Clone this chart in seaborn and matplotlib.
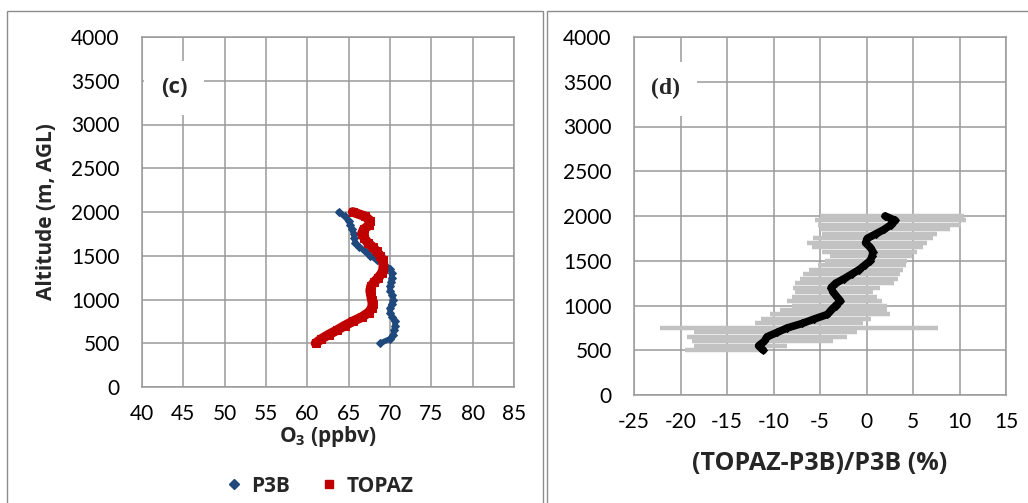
import numpy as np
import pandas as pd
import matplotlib
matplotlib.use("Agg")
import matplotlib.pyplot as plt
from matplotlib.patches import Rectangle
from matplotlib.lines import Line2D
import seaborn as sns

# ---------------- data ----------------
alt = [500, 550, 600, 650, 700, 750, 800, 850, 900, 950, 1000, 1050, 1100, 1150,
       1200, 1250, 1300, 1350, 1400, 1450, 1500, 1550, 1600, 1650, 1700, 1750,
       1800, 1850, 1900, 1950, 2000]

p3b = [68.8, 70.0, 70.4, 70.5, 70.6, 70.6, 70.3, 70.0, 70.0, 70.2, 70.4, 70.3,
       70.0, 70.0, 70.1, 70.2, 70.2, 70.0, 69.3, 68.4, 67.6, 67.0, 66.3, 65.8,
       65.7, 65.6, 65.4, 65.2, 65.0, 64.5, 63.8]

topaz = [61.0, 61.7, 62.6, 63.6, 64.5, 65.5, 66.6, 67.4, 67.8, 67.9, 67.8, 67.7,
         67.6, 67.7, 68.1, 68.6, 69.0, 69.2, 69.2, 69.1, 68.8, 68.4, 67.9, 67.3,
         66.9, 66.6, 66.8, 67.5, 67.6, 67.0, 65.5]

diff_mean = [-11.1, -11.6, -11.0, -10.7, -9.6, -8.5, -6.9, -5.6, -4.2, -3.8, -3.3,
             -2.8, -3.2, -3.6, -3.8, -3.3, -2.4, -1.6, -0.8, -0.2, 0.4, 0.6, 0.7,
             0.4, -0.1, 0.1, 1.0, 1.9, 2.6, 3.1, 2.0]

diff_lo = [-19.5, -18.5, -18.8, -19.3, -18.6, -22.2, -12.0, -11.3, -10.4, -9.3, -8.0,
           -8.5, -8.0, -7.7, -7.9, -7.7, -7.2, -6.8, -6.2, -5.2, -4.5, -3.9, -4.8,
           -5.9, -6.4, -5.7, -4.8, -5.0, -5.2, -5.5, -5.0]

diff_hi = [-11.0, -8.5, -3.6, -2.1, -1.0, 7.7, -0.4, 0.5, 2.5, 2.2, 2.2, 1.7, 1.1,
           0.7, 1.5, 3.0, 3.4, 3.6, 3.9, 4.2, 4.4, 4.9, 5.4, 6.1, 6.5, 7.2, 7.6,
           9.0, 10.2, 10.7, 10.5]

xticks_c = [40, 45, 50, 55, 60, 65, 70, 75, 80, 85]
xticks_d = [-25, -20, -15, -10, -5, 0, 5, 10, 15]
yticks = [0, 500, 1000, 1500, 2000, 2500, 3000, 3500, 4000]

# ---------------- style ----------------
sns.set_style("white")
plt.rcParams["font.family"] = ["Lato", "DejaVu Sans"]
plt.rcParams["mathtext.fontset"] = "custom"
plt.rcParams["mathtext.rm"] = "Open Sans:bold"
plt.rcParams["mathtext.it"] = "Open Sans:bold"
plt.rcParams["mathtext.bf"] = "Open Sans:bold"

BOLD = dict(family=["Open Sans", "DejaVu Sans"], weight="bold")

GRID = "#9a9a9a"
BLUE = "#1F497D"
RED = "#C00000"

fig = plt.figure(figsize=(10.28, 5.03), dpi=100)
W, H = 1028, 503

# panel frames
fig.patches.append(Rectangle((7 / W, -0.05), (543 - 7) / W, (503 - 11) / H + 0.05,
                             transform=fig.transFigure, fill=False,
                             edgecolor="#8c8c8c", lw=1.0))
fig.patches.append(Rectangle((547 / W, -0.05), 0.6, (503 - 11) / H + 0.05,
                             transform=fig.transFigure, fill=False,
                             edgecolor="#8c8c8c", lw=1.0))

ax1 = fig.add_axes([142 / W, 1 - 387 / H, (514 - 142) / W, (387 - 37) / H])
ax2 = fig.add_axes([634 / W, 1 - 395 / H, (1006 - 634) / W, (395 - 37) / H])


def style_axes(ax, xticks, xlim):
    ax.set_xlim(*xlim)
    ax.set_ylim(0, 4000)
    ax.set_xticks(xticks)
    ax.set_yticks(yticks)
    ax.set_xticklabels([str(t) for t in xticks])
    ax.grid(True, color=GRID, lw=1.1)
    ax.set_axisbelow(True)
    for s in ax.spines.values():
        s.set_color(GRID)
        s.set_linewidth(1.1)
    ax.tick_params(axis="both", direction="inout", length=8, width=1.1,
                   color=GRID, labelsize=15, labelcolor="black")
    ax.tick_params(axis="y", pad=12)
    ax.tick_params(axis="x", pad=8)


# ---------------- panel (c) ----------------
style_axes(ax1, xticks_c, (40, 85))
df_c = pd.DataFrame({"alt": alt, "P3B": p3b, "TOPAZ": topaz})
sns.lineplot(data=df_c, x="P3B", y="alt", sort=False, estimator=None, ax=ax1,
             color=BLUE, lw=4.0, marker="D", markersize=4.5, markeredgecolor=BLUE,
             zorder=3)
sns.lineplot(data=df_c, x="TOPAZ", y="alt", sort=False, estimator=None, ax=ax1,
             color=RED, lw=7, marker="s", markersize=5.5, markeredgecolor=RED,
             zorder=4)
ax1.set_xlabel(r"O$_3$ (ppbv)", fontsize=15, labelpad=0, **BOLD)
ax1.set_ylabel("Altitude (m, AGL)", fontsize=15, labelpad=10, **BOLD)
ax1.text(0.087, 0.855, "(c)", transform=ax1.transAxes, fontsize=16,
         ha="center", va="center",
         bbox=dict(boxstyle="square,pad=0.75", fc="white", ec="none"), zorder=5,
         **BOLD)

# ---------------- panel (d) ----------------
style_axes(ax2, xticks_d, (-25, 15))
ax2.hlines(alt, diff_lo, diff_hi, color="#C2C2C2", lw=3.2, zorder=2)
df_d = pd.DataFrame({"alt": alt, "diff": diff_mean})
sns.lineplot(data=df_d, x="diff", y="alt", sort=False, estimator=None, ax=ax2,
             color="black", lw=5.5, marker="D", markersize=4.5,
             markeredgecolor="black", zorder=4)
ax2.set_xlabel("(TOPAZ-P3B)/P3B (%)", fontsize=18, labelpad=14, **BOLD)
ax2.set_ylabel("")
ax2.text(0.085, 0.855, "(d)", transform=ax2.transAxes, fontsize=17,
         fontweight="bold", ha="center", va="center",
         family=["Liberation Serif", "DejaVu Serif"],
         bbox=dict(boxstyle="square,pad=0.7", fc="white", ec="none"), zorder=5)

# legend for panel (c)
handles = [Line2D([], [], ls="none", marker="D", color=BLUE, markersize=5),
           Line2D([], [], ls="none", marker="s", color=RED, markersize=6)]
leg = fig.legend(handles, ["P3B", "TOPAZ"], loc="center",
                 bbox_to_anchor=(320 / W, 1 - 486 / H), ncol=2, frameon=False,
                 handlelength=0.7, handletextpad=0.5, columnspacing=1.5,
                 prop={"size": 15, "weight": "bold", "family": "Open Sans"})

fig.savefig("out.png", dpi=100)
